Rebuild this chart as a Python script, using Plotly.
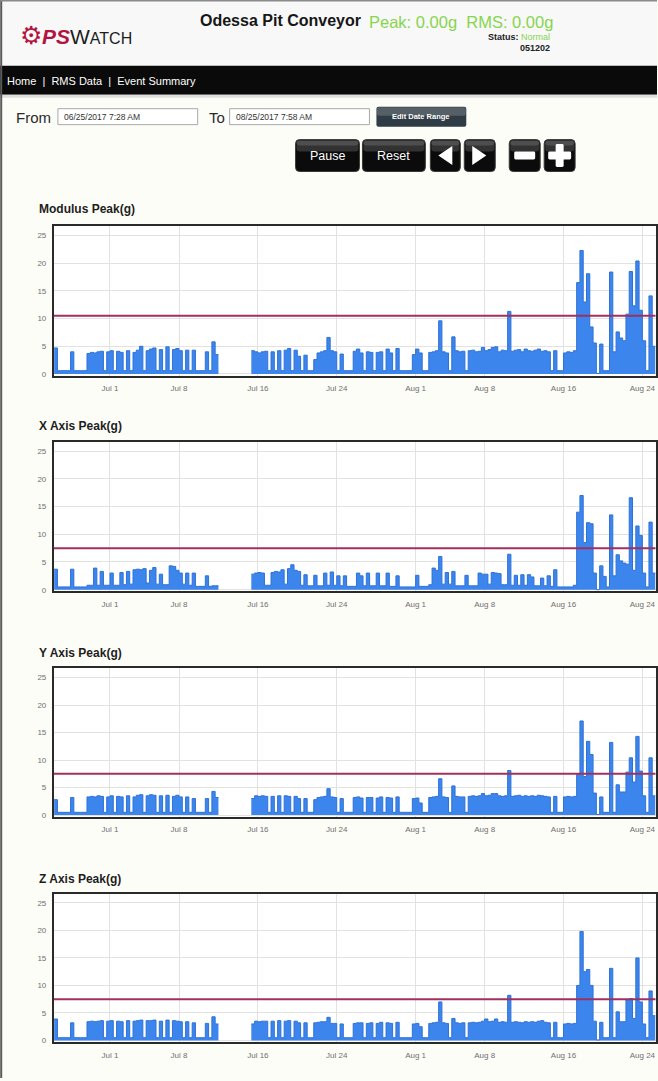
import plotly.graph_objects as go
import pandas as pd

W, H = 658, 1081
FONT = "Liberation Sans, Arial, sans-serif"


def X(px):
    return px / W


def Y(py):
    return 1 - py / H


# ---------------- data (8-hour samples starting 2017-06-25 08:00) ----------------
START = "2017-06-25 08:00"
STEP = "8h"
N = 184
_ = None

MODULUS = [
    4.7, 0.6, 0.6, 0.6, 0.6, 4.0, 0.6, 0.6, 0.6, 0.6, 3.7, 3.9,
    3.8, 4.0, 4.1, 0.6, 4.0, 4.2, 0.6, 4.1, 3.9, 0.6, 4.2, 0.6,
    3.9, 4.3, 5.0, 0.6, 4.2, 4.5, 4.7, 0.6, 4.4, 0.6, 4.9, 0.6,
    4.4, 4.6, 4.2, 0.6, 4.3, 0.6, 4.3, 0.6, 0.6, 0.6, 4.0, 0.6,
    5.8, 3.5, _, _, _, _, _, _, _, _, _, _,
    4.2, 4.0, 3.8, 4.0, 4.1, 0.6, 4.0, 0.6, 4.2, 0.6, 4.3, 4.6,
    0.6, 4.3, 3.2, 0.6, 3.4, 0.6, 0.6, 2.6, 3.8, 4.0, 4.2, 6.6,
    4.2, 4.0, 0.6, 3.6, 0.6, 0.6, 0.6, 4.1, 4.5, 3.8, 0.6, 4.0,
    3.9, 0.6, 3.9, 4.0, 0.6, 4.5, 3.8, 0.6, 4.6, 0.6, 0.6, 0.6,
    0.6, 3.5, 4.5, 3.8, 0.6, 0.6, 3.9, 4.0, 4.2, 9.6, 4.0, 3.8,
    0.6, 6.7, 4.2, 4.0, 4.1, 0.6, 4.2, 4.3, 4.0, 4.1, 4.8, 4.2,
    4.4, 4.8, 4.9, 4.0, 4.3, 4.2, 11.3, 4.1, 4.3, 4.4, 4.0, 4.5,
    4.2, 4.1, 4.3, 4.5, 4.1, 4.2, 4.0, 0.6, 4.2, 0.6, 0.6, 3.8,
    4.0, 3.9, 4.2, 16.5, 22.3, 13.0, 18.1, 8.5, 5.6, 0.1, 5.4, 0.6,
    0.6, 18.4, 4.0, 7.6, 6.5, 6.0, 10.8, 18.5, 12.3, 20.4, 11.5, 6.0,
    0.6, 14.1, 5.0, 5.0,
]

X_AXIS = [
    3.7, 0.5, 0.5, 0.5, 0.5, 3.7, 0.5, 0.5, 0.5, 0.5, 0.8, 0.8,
    3.9, 0.8, 3.3, 0.8, 0.8, 3.0, 0.8, 0.8, 3.1, 0.9, 3.3, 1.0,
    3.6, 3.7, 3.6, 3.8, 1.2, 3.5, 4.0, 1.0, 2.8, 0.9, 0.9, 4.3,
    4.2, 3.5, 3.0, 1.0, 3.0, 0.8, 3.0, 0.6, 0.6, 0.6, 2.5, 0.6,
    0.7, 0.7, _, _, _, _, _, _, _, _, _, _,
    2.8, 3.0, 3.1, 3.0, 0.8, 0.8, 3.1, 3.3, 3.2, 3.6, 1.0, 3.8,
    4.5, 3.5, 3.3, 0.8, 2.7, 0.7, 0.7, 2.6, 0.7, 0.7, 3.0, 0.8,
    3.2, 0.8, 2.5, 0.7, 2.5, 0.6, 0.6, 0.6, 3.0, 2.5, 0.7, 3.0,
    0.7, 0.7, 3.0, 0.7, 0.7, 3.0, 0.6, 0.6, 2.5, 0.5, 0.5, 0.5,
    0.5, 0.5, 2.6, 0.6, 0.6, 0.6, 0.9, 3.9, 3.5, 6.0, 1.0, 3.1,
    1.0, 3.3, 0.7, 0.7, 0.7, 2.6, 0.7, 0.7, 0.7, 3.0, 2.8, 2.8,
    1.0, 3.1, 3.0, 2.9, 0.9, 0.9, 6.4, 0.8, 2.6, 0.8, 2.7, 0.8,
    2.7, 2.3, 0.7, 0.7, 2.1, 0.7, 2.5, 0.6, 3.6, 0.5, 0.5, 0.5,
    0.5, 0.5, 0.8, 14.0, 17.0, 8.5, 12.1, 11.9, 3.0, 0.0, 4.3, 2.4,
    0.5, 13.5, 2.5, 6.3, 5.2, 4.8, 4.6, 16.6, 3.5, 11.5, 9.8, 3.0,
    0.5, 12.2, 3.0, 3.0,
]

Y_AXIS = [
    2.8, 0.5, 0.5, 0.5, 0.5, 3.2, 0.5, 0.5, 0.5, 0.5, 3.3, 3.4,
    3.3, 3.5, 3.4, 0.5, 3.3, 3.5, 0.5, 3.4, 3.3, 0.5, 3.5, 0.5,
    3.3, 3.6, 3.7, 0.5, 3.5, 3.7, 3.6, 0.5, 3.5, 0.5, 3.6, 0.5,
    3.4, 3.6, 3.3, 0.5, 3.3, 0.5, 3.0, 0.5, 0.5, 0.5, 3.0, 0.5,
    4.3, 3.2, _, _, _, _, _, _, _, _, _, _,
    3.0, 3.5, 3.4, 3.5, 3.4, 0.5, 3.4, 0.5, 3.5, 0.5, 3.5, 3.4,
    0.5, 3.4, 3.0, 0.5, 3.0, 0.5, 0.5, 2.8, 3.2, 3.3, 3.4, 4.8,
    3.3, 3.2, 0.5, 3.0, 0.5, 0.5, 0.5, 3.2, 3.3, 3.1, 0.5, 3.2,
    3.2, 0.5, 3.1, 3.3, 0.5, 3.2, 3.1, 0.5, 3.3, 0.5, 0.5, 0.5,
    0.5, 3.0, 3.1, 2.2, 0.5, 0.5, 3.2, 3.3, 3.4, 6.6, 3.3, 3.2,
    0.5, 5.3, 3.4, 3.3, 3.3, 0.5, 3.4, 3.5, 3.4, 3.5, 3.9, 3.5,
    3.6, 3.9, 3.9, 3.5, 3.4, 3.5, 8.1, 3.4, 3.5, 3.6, 3.4, 3.5,
    3.4, 3.5, 3.4, 3.6, 3.5, 3.4, 3.3, 0.5, 3.4, 0.5, 0.5, 3.3,
    3.4, 3.3, 3.4, 7.4, 17.1, 7.0, 13.4, 11.0, 4.0, 0.1, 3.3, 0.5,
    0.5, 13.2, 0.5, 5.5, 4.2, 4.2, 7.8, 10.4, 6.0, 14.3, 8.0, 3.5,
    0.5, 10.4, 3.5, 3.5,
]

Z_AXIS = [
    3.9, 0.5, 0.5, 0.5, 0.5, 3.2, 0.5, 0.5, 0.5, 0.5, 3.4, 3.5,
    3.4, 3.5, 3.6, 0.5, 3.5, 3.6, 0.5, 3.5, 3.4, 0.5, 3.6, 0.5,
    3.5, 3.6, 3.7, 0.5, 3.6, 3.6, 3.7, 0.5, 3.5, 0.5, 3.7, 0.5,
    3.6, 3.5, 3.4, 0.5, 3.4, 0.5, 3.2, 0.5, 0.5, 0.5, 3.1, 0.5,
    4.3, 3.0, _, _, _, _, _, _, _, _, _, _,
    3.0, 3.5, 3.4, 3.5, 3.5, 0.5, 3.5, 0.5, 3.6, 0.5, 3.5, 3.6,
    0.5, 3.5, 3.2, 0.5, 3.2, 0.5, 0.5, 3.2, 3.3, 3.4, 3.4, 4.2,
    3.1, 3.1, 0.5, 3.0, 0.5, 0.5, 0.5, 3.1, 3.2, 3.2, 0.5, 3.1,
    3.2, 0.5, 3.1, 3.3, 0.5, 3.2, 3.1, 0.5, 3.3, 0.5, 0.5, 0.5,
    0.5, 3.0, 3.1, 2.5, 0.5, 0.5, 3.1, 3.2, 3.3, 7.0, 3.2, 3.1,
    0.5, 4.0, 3.2, 3.1, 3.2, 0.5, 3.2, 3.3, 3.2, 3.3, 3.5, 3.9,
    3.4, 3.5, 3.9, 3.3, 3.4, 3.3, 8.2, 3.3, 3.4, 3.3, 3.2, 3.4,
    3.3, 3.4, 3.3, 3.5, 3.6, 3.3, 3.2, 0.5, 3.3, 0.5, 0.5, 3.0,
    3.1, 3.0, 3.1, 10.0, 19.8, 12.5, 12.9, 10.0, 3.5, 0.1, 3.3, 0.5,
    0.5, 13.1, 0.5, 5.2, 3.4, 3.4, 7.4, 7.6, 4.0, 15.0, 7.0, 3.0,
    0.5, 9.0, 4.5, 4.5,
]

SERIES = [MODULUS, X_AXIS, Y_AXIS, Z_AXIS]
TITLES = ["Modulus Peak(g)", "X Axis Peak(g)", "Y Axis Peak(g)", "Z Axis Peak(g)"]
THRESHOLDS = [10.5, 7.5, 7.5, 7.5]
TICK_DATES = ["2017-07-01", "2017-07-08", "2017-07-16", "2017-07-24",
              "2017-08-01", "2017-08-08", "2017-08-16", "2017-08-24"]
TICK_LABELS = ["Jul 1", "Jul 8", "Jul 16", "Jul 24", "Aug 1", "Aug 8", "Aug 16", "Aug 24"]
Y_TICKS = [0, 5, 10, 15, 20, 25]
X_RANGE = ["2017-06-25 07:28", "2017-08-25 07:58"]
Y_RANGE = [-0.3, 26.7]

# ---------------- layout geometry (pixels) ----------------
PLOT_LEFT, PLOT_RIGHT = 54, 656.5
PANELS = [(226.7, 376.7), (443, 593), (670, 819), (896, 1045)]
TITLE_Y = [210, 427, 655, 881]

times = list(pd.date_range(START, periods=N, freq=STEP))


def segments(vals):
    """Split a series into contiguous runs without missing samples."""
    runs, cur = [], []
    for i, v in enumerate(vals):
        if v is None:
            if cur:
                runs.append(cur)
                cur = []
        else:
            cur.append(i)
    if cur:
        runs.append(cur)
    return runs


fig = go.Figure()
layout = dict(
    width=W, height=H, margin=dict(l=0, r=0, t=0, b=0),
    paper_bgcolor="#fdfdf8", plot_bgcolor="#ffffff",
    showlegend=False, font=dict(family=FONT, color="#222"),
)

shapes = []
annotations = []

for k, (vals, title, thr, (top, bot), ty) in enumerate(zip(SERIES, TITLES, THRESHOLDS, PANELS, TITLE_Y), start=1):
    sfx = "" if k == 1 else str(k)
    for run in segments(vals):
        # extend each run to the start of the following sample so the last step is drawn
        xs = [times[i] for i in run]
        ys = [vals[i] for i in run]
        if run[-1] + 1 < N:
            xs.append(times[run[-1] + 1])
            ys.append(vals[run[-1]])
        fig.add_trace(go.Scatter(
            x=xs, y=ys, mode="lines",
            line=dict(color="#2e72d8", width=1, shape="hv"),
            fill="tozeroy", fillcolor="#3b85ec",
            xaxis="x" + sfx, yaxis="y" + sfx, hoverinfo="skip",
        ))
    layout["xaxis" + sfx] = dict(
        domain=[X(PLOT_LEFT), X(PLOT_RIGHT)], anchor="y" + sfx, type="date",
        range=X_RANGE, tickvals=TICK_DATES, ticktext=TICK_LABELS,
        showgrid=True, gridcolor="#e2e2e2", gridwidth=1,
        showline=True, mirror=True, linecolor="#2a2a2a", linewidth=2,
        ticks="outside", ticklen=4, tickcolor="rgba(0,0,0,0)",
        tickfont=dict(size=8, color="#6f6f6f", family=FONT), zeroline=False,
        fixedrange=True,
    )
    layout["yaxis" + sfx] = dict(
        domain=[Y(bot), Y(top)], anchor="x" + sfx, range=Y_RANGE,
        tickvals=Y_TICKS, showgrid=True, gridcolor="#e2e2e2", gridwidth=1,
        showline=True, mirror=True, linecolor="#2a2a2a", linewidth=2,
        ticks="outside", ticklen=4, tickcolor="rgba(0,0,0,0)",
        tickfont=dict(size=8, color="#6f6f6f", family=FONT), zeroline=False,
        fixedrange=True,
    )
    shapes.append(dict(type="line", xref="x%s domain" % sfx, yref="y" + sfx,
                       x0=0, x1=1, y0=thr, y1=thr,
                       line=dict(color="#a0305e", width=2), layer="above"))
    annotations.append(dict(text="<b>%s</b>" % title, x=X(37), y=Y(ty), xref="paper", yref="paper",
                            xanchor="left", yanchor="middle", showarrow=False,
                            font=dict(size=12, color="#1e1e1e", family=FONT)))


def rect(x0, y0, x1, y1, fill, line=None, lw=0):
    return dict(type="rect", xref="paper", yref="paper", x0=X(x0), x1=X(x1), y0=Y(y1), y1=Y(y0),
                fillcolor=fill, line=dict(color=line or "rgba(0,0,0,0)", width=lw), layer="below")


def rrect(x0, y0, x1, y1, r, fill, line=None, lw=0, layer="above"):
    p = (f"M {X(x0 + r)},{Y(y0)} L {X(x1 - r)},{Y(y0)} Q {X(x1)},{Y(y0)} {X(x1)},{Y(y0 + r)} "
         f"L {X(x1)},{Y(y1 - r)} Q {X(x1)},{Y(y1)} {X(x1 - r)},{Y(y1)} "
         f"L {X(x0 + r)},{Y(y1)} Q {X(x0)},{Y(y1)} {X(x0)},{Y(y1 - r)} "
         f"L {X(x0)},{Y(y0 + r)} Q {X(x0)},{Y(y0)} {X(x0 + r)},{Y(y0)} Z")
    return dict(type="path", xref="paper", yref="paper", path=p, fillcolor=fill,
                line=dict(color=line or "rgba(0,0,0,0)", width=lw), layer=layer)


def poly(pts, fill):
    p = "M " + " L ".join(f"{X(a)},{Y(b)}" for a, b in pts) + " Z"
    return dict(type="path", xref="paper", yref="paper", path=p, fillcolor=fill,
                line=dict(color=fill, width=0), layer="above")


def text(t, x, y, size, color="#222", anchor="left", bold=False):
    if bold:
        t = "<b>%s</b>" % t
    annotations.append(dict(text=t, x=X(x), y=Y(y), xref="paper", yref="paper",
                            xanchor=anchor, yanchor="middle", showarrow=False,
                            font=dict(size=size, color=color, family=FONT)))


# header
shapes.append(rect(0, 0, W, 66, "#f8f8f8"))
shapes.append(rect(0, 66, W, 95, "#0a0a0a"))
shapes.append(rect(0, 95, W, 98, "#dedede"))
shapes.append(dict(type="line", xref="paper", yref="paper", x0=X(1.2), x1=X(1.2), y0=0, y1=1,
                   line=dict(color="#5a5a5a", width=2), layer="above"))
shapes.append(dict(type="line", xref="paper", yref="paper", x0=0, x1=1, y0=Y(0.8), y1=Y(0.8),
                   line=dict(color="#8a8a8a", width=1.5), layer="above"))

annotations.append(dict(
    text=("<span style='color:#b3143f;font-size:25px'>⚙</span>"
          "<span style='color:#b3143f;font-size:21px'><b><i>PS</i></b></span>"
          "<span style='color:#1c1c1c;font-size:21px'>W</span>"
          "<span style='color:#1c1c1c;font-size:16px'>ATCH</span>"),
    x=X(18), y=Y(35), xref="paper", yref="paper", xanchor="left", yanchor="middle",
    showarrow=False, font=dict(family=FONT, size=21)))
text("Odessa Pit Conveyor", 198, 21, 16, "#161616", bold=True)
text("Peak: 0.00g&nbsp;&nbsp;RMS: 0.00g", 368, 22, 16.5, "#86d54e")
annotations.append(dict(text="<b>Status: </b><span style='color:#86d54e'>Normal</span>",
                        x=X(553), y=Y(37), xref="paper", yref="paper", xanchor="right",
                        yanchor="middle", showarrow=False,
                        font=dict(size=9, color="#222", family=FONT)))
text("051202", 553, 48.5, 9, "#222", anchor="right", bold=True)

# nav
text("Home &nbsp;| &nbsp;RMS Data &nbsp;| &nbsp;Event Summary", 5, 81, 11, "#ffffff")

# date row
text("From", 14, 117.5, 15, "#2a2a2a")
text("To", 207, 117.5, 15, "#2a2a2a")
shapes.append(rect(58, 109, 198, 125, "#ffffff", "#a8a8a8", 1))
shapes.append(rect(230, 109, 370, 125, "#ffffff", "#a8a8a8", 1))
text("06/25/2017 7:28 AM", 62, 117, 8.5, "#333")
text("08/25/2017 7:58 AM", 234, 117, 8.5, "#333")
shapes.append(rrect(377, 107, 467, 127, 2, "#2f3c45"))
shapes.append(rrect(377.5, 107.5, 466.5, 116, 2, "rgba(255,255,255,0.18)"))
text("Edit Date Range", 422, 117, 7.5, "#ffffff", anchor="center", bold=True)

# control buttons
BUTTONS = [(296, 360, "Pause"), (363, 426, "Reset"), (431, 461, ""), (465, 496, ""),
           (510, 541, ""), (545, 576, "")]
for x0, x1, lab in BUTTONS:
    shapes.append(rrect(x0, 140, x1, 172, 4, "#0b0b0b", "#3a3a3a", 1))
    shapes.append(rrect(x0 + 1, 141, x1 - 1, 152, 3, "rgba(255,255,255,0.16)"))
    shapes.append(rrect(x0 + 1, 141, x1 - 1, 146, 3, "rgba(255,255,255,0.14)"))
    if lab:
        text(lab, (x0 + x1) / 2, 156, 12.5, "#ffffff", anchor="center")
shapes.append(poly([(439, 156), (453, 146.5), (453, 165.5)], "#ffffff"))
shapes.append(poly([(473, 146.5), (473, 165.5), (487, 156)], "#ffffff"))
shapes.append(rrect(515, 152, 536, 160, 1.5, "#ffffff"))
shapes.append(rrect(549, 152, 572, 160, 1.5, "#ffffff"))
shapes.append(rrect(556.5, 144.5, 564.5, 167.5, 1.5, "#ffffff"))

layout["shapes"] = shapes
layout["annotations"] = annotations
fig.update_layout(**layout)

fig.write_html("out.html", config={"displayModeBar": False},
               post_script="document.body.style.margin='0';document.body.style.background='#fdfdf8';")
